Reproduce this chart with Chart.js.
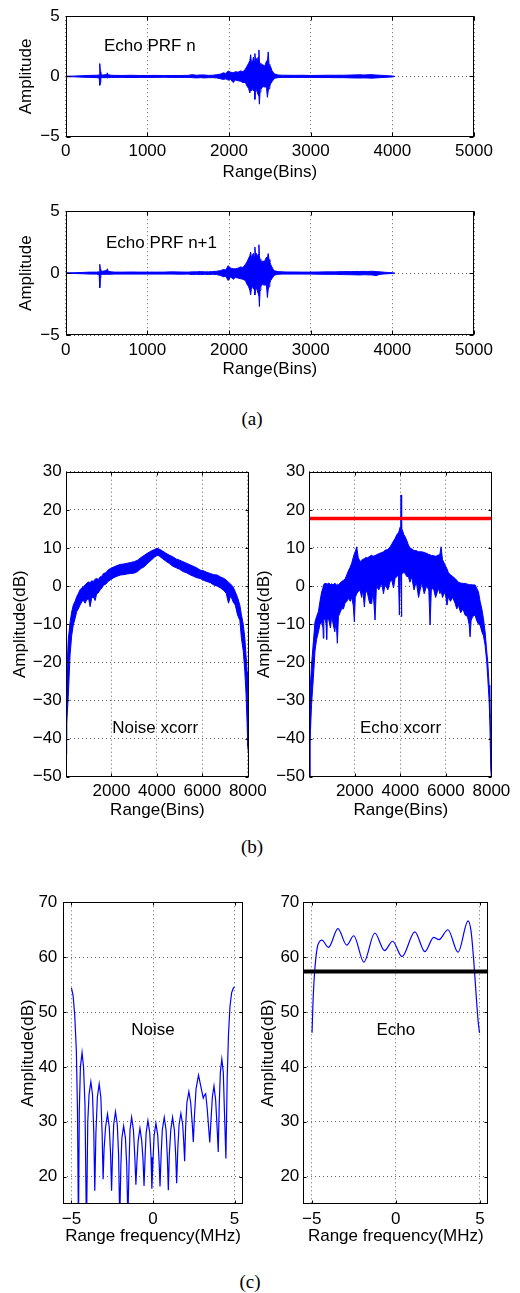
<!DOCTYPE html>
<html><head><meta charset="utf-8">
<script src="https://cdn.jsdelivr.net/npm/chart.js@4.4.0/dist/chart.umd.min.js"></script>
<style>
html,body{margin:0;padding:0;background:#fff;}
body{width:520px;height:1293px;position:relative;overflow:hidden;}
canvas{position:absolute;}
.cap{position:absolute;font-family:"Liberation Serif","Times New Roman",serif;font-size:19px;color:#000;transform:translate(-50%,-50%);white-space:nowrap;}
</style></head><body>
<canvas id="c1"></canvas><canvas id="c2"></canvas>
<canvas id="c3"></canvas><canvas id="c4"></canvas>
<canvas id="c5"></canvas><canvas id="c6"></canvas>
<div class="cap" style="left:252px;top:419px">(a)</div>
<div class="cap" style="left:252px;top:847px">(b)</div>
<div class="cap" style="left:250px;top:1282px">(c)</div>
<script>
// ---------- (a) echo waveforms: range bins, upper/lower envelope ----------
const binsA = [
 0,100,200,300,380,410,415,420,425,430,
 450,500,510,520,560,600,700,800,900,1000,
 1100,1200,1300,1400,1500,1550,1600,1650,1700,1750,
 1800,1850,1900,1930,1960,1990,2020,2050,2080,2110,
 2140,2170,2200,2220,2240,2255,2265,2275,2290,2300,
 2310,2317,2325,2335,2345,2355,2366,2372,2380,2390,
 2400,2415,2430,2445,2460,2470,2480,2490,2500,2510,
 2525,2540,2560,2600,2650,2700,2800,2900,3000,3100,
 3200,3300,3400,3500,3600,3650,3700,3750,3800,3850,
 3900,3950,4000,4030];
const echoN_hi = [
 0.02,0.03,0.06,0.09,0.1,0.12,0.35,1.07,0.4,0.15,
 0.12,0.15,0.3,0.14,0.1,0.09,0.08,0.1,0.08,0.08,
 0.09,0.07,0.08,0.08,0.09,0.15,0.1,0.13,0.12,0.09,
 0.1,0.15,0.2,0.3,0.25,0.45,0.35,0.3,0.4,0.35,
 0.45,0.4,0.6,0.85,1.1,1.3,1.8,1.1,1.3,1.6,
 1.2,1.9,1.3,1.5,1.1,1.6,2.2,1.3,1.0,1.1,
 0.9,1.0,0.8,1.0,1.3,1.2,2.04,1.0,0.9,0.8,
 0.5,0.35,0.2,0.12,0.1,0.1,0.09,0.1,0.08,0.09,
 0.1,0.1,0.1,0.12,0.14,0.12,0.14,0.15,0.12,0.1,
 0.08,0.06,0.04,0.0];
const echoN_lo = [
 -0.02,-0.03,-0.06,-0.08,-0.1,-0.12,-0.3,-0.73,-0.5,-0.12,
 -0.1,-0.1,-0.13,-0.1,-0.09,-0.08,-0.08,-0.09,-0.08,-0.08,
 -0.08,-0.07,-0.08,-0.08,-0.08,-0.1,-0.12,-0.1,-0.12,-0.1,
 -0.1,-0.12,-0.2,-0.25,-0.2,-0.3,-0.25,-0.5,-0.3,-0.35,
 -0.4,-0.5,-0.5,-0.8,-1.0,-1.37,-1.1,-1.2,-1.0,-1.2,
 -1.0,-1.9,-0.9,-1.1,-1.3,-1.5,-1.6,-2.3,-1.3,-1.0,
 -1.0,-0.8,-0.9,-0.8,-1.0,-1.73,-1.2,-1.0,-0.8,-0.6,
 -0.45,-0.3,-0.15,-0.1,-0.08,-0.08,-0.08,-0.08,-0.08,-0.09,
 -0.09,-0.1,-0.1,-0.12,-0.13,-0.12,-0.13,-0.14,-0.12,-0.1,
 -0.08,-0.06,-0.04,0.0];
const echoN1_hi = [
 0.02,0.03,0.05,0.08,0.08,0.1,0.3,0.71,0.3,0.12,
 0.15,0.2,0.35,0.15,0.1,0.08,0.08,0.09,0.08,0.08,
 0.08,0.08,0.1,0.09,0.08,0.1,0.1,0.12,0.1,0.1,
 0.12,0.15,0.2,0.3,0.25,0.6,0.4,0.35,0.35,0.4,
 0.5,0.45,0.7,0.9,1.2,1.4,1.7,1.2,1.5,1.6,
 1.3,2.1,1.4,1.6,1.3,1.5,2.29,1.4,1.1,1.0,
 0.9,1.0,0.9,1.1,1.3,1.2,1.58,1.1,0.9,0.7,
 0.5,0.3,0.18,0.12,0.1,0.09,0.09,0.08,0.08,0.09,
 0.1,0.1,0.12,0.12,0.13,0.14,0.13,0.15,0.12,0.1,
 0.07,0.05,0.03,0.0];
const echoN1_lo = [
 -0.02,-0.03,-0.05,-0.08,-0.08,-0.15,-0.5,-1.18,-0.4,-0.12,
 -0.1,-0.1,-0.12,-0.1,-0.09,-0.08,-0.08,-0.08,-0.08,-0.08,
 -0.08,-0.08,-0.08,-0.09,-0.08,-0.12,-0.1,-0.12,-0.1,-0.12,
 -0.1,-0.12,-0.2,-0.3,-0.25,-0.6,-0.3,-0.5,-0.35,-0.4,
 -0.45,-0.5,-0.6,-0.9,-1.1,-1.4,-1.76,-1.2,-1.1,-1.3,
 -1.1,-1.76,-1.0,-1.2,-1.4,-1.6,-1.8,-2.7,-1.4,-1.1,
 -1.0,-0.9,-1.0,-0.9,-1.1,-1.97,-1.3,-1.1,-0.8,-0.6,
 -0.45,-0.3,-0.15,-0.1,-0.08,-0.08,-0.08,-0.08,-0.08,-0.09,
 -0.1,-0.1,-0.12,-0.13,-0.15,-0.13,-0.14,-0.15,-0.2,-0.1,
 -0.07,-0.05,-0.03,0.0];

// ---------- (b) cross-correlations (dB) ----------
const binsNX = [
 0,30,100,180,250,320,400,470,540,615,
 690,760,840,920,1000,1060,1130,1200,1280,1350,
 1420,1500,1580,1650,1750,1850,1950,2100,2250,2400,
 2550,2700,2850,3000,3150,3300,3450,3600,3750,3900,
 4000,4100,4250,4400,4550,4700,4850,5000,5150,5300,
 5450,5600,5750,5900,6050,6200,6350,6500,6650,6800,
 6950,7050,7150,7250,7350,7450,7550,7650,7720,7800,
 7870,7920,7970,8000,8030];
const noiseX_hi = [
 -40,-24,-14,-9.5,-6.8,-5,-4,-2.8,-2,-1,
 -0.5,-0.2,0.3,0.8,1.1,0.9,1.4,1.2,1.8,2,
 1.7,2.4,2.6,3.3,3.5,4.2,4.6,5,5.4,5.7,
 5.8,6,6.2,6.4,6.8,7.5,8.1,8.7,9.2,9.6,
 9.9,9.7,9.2,8.6,8.1,7.7,7.1,6.8,6.4,6,
 5.6,5.2,4.8,4.2,4,3.6,3.3,3,2.9,2.4,
 2,1.6,1,0.5,-0.2,-1.5,-3,-5,-7.6,-10,
 -13.7,-18,-22.5,-28,-36];
const noiseX_lo = [
 -44,-36,-29,-18,-13,-10.2,-8.5,-6.7,-6,-5,
 -4.2,-3.7,-4.5,-3.5,-3.4,-5.4,-3.2,-2.8,-3.8,-2,
 -1.8,-1,-0.5,0.2,0.5,1.2,1.6,2.2,2.6,2.9,
 3,3.2,3.3,3.4,3.8,4.6,5.1,6,6.8,7.6,
 8.1,7.9,7.2,6.5,5.9,5.2,4.8,4.4,3.8,3.5,
 3,2.6,2.2,2,1.5,1.2,0.9,0.3,0,-0.5,
 -1.2,-1.9,-4.5,-2.5,-4.1,-5,-7.6,-9,-13.7,-17,
 -22.5,-28,-36,-42,-44];
const binsEX = [
 0,30,100,180,250,320,400,470,544,600,
 617,640,690,740,763,790,860,930,983,1050,
 1120,1180,1232,1280,1350,1423,1500,1569,1650,1716,
 1800,1862,1930,1980,2020,2083,2150,2229,2300,2350,
 2419,2480,2560,2650,2742,2800,2888,2950,3050,3181,
 3260,3328,3450,3550,3622,3700,3768,3850,3915,3958,
 3990,4017,4030,4045,4070,4090,4150,4207,4280,4354,
 4420,4500,4600,4700,4800,4940,5050,5150,5250,5306,
 5360,5450,5550,5673,5740,5790,5850,5965,6050,6112,
 6200,6300,6405,6480,6551,6650,6750,6844,6950,7020,
 7064,7110,7180,7284,7350,7431,7504,7580,7650,7724,
 7797,7841,7900,7929,7973,8000,8030];
const echoX_hi = [
 -50,-28,-20.5,-14.5,-9.4,-8,-6.7,-4,-1.5,-0.5,
 0.2,0.5,0.7,0.6,0.7,0.5,0.8,0.4,0.6,0.3,
 0.8,0.2,0.5,0.3,0.8,1.2,1.5,1.8,3,4,
 5,6,7.5,8.5,9,10.3,7.5,6.4,6.8,7,
 7.2,7.5,7.4,7.8,8.1,7.8,8,8.2,8.5,8.8,
 9,9.4,9.6,10.3,11,11.8,12.5,13.5,14,14.7,
 15.5,16.5,23.9,16,15,14.7,13.5,13,12,10.8,
 10,9.8,9.3,9.3,9,9,8.8,8.6,8.3,8.2,
 8,8,7.8,8.1,8.5,10.3,7,5.5,4.5,3.5,
 3,2.5,2,1.5,1,0.8,0.7,0.7,0.5,0.4,
 0.3,0.4,0.3,0.3,-0.5,-1.5,-4,-6,-8.5,-12,
 -17.2,-20,-26,-30,-40,-49.6,-50];
const echoX_lo = [
 -50,-41,-31,-24,-17,-14,-12,-10,-9.4,-11,
 -13.7,-9,-8.5,-10,-14,-8.5,-9,-11,-8,-10,
 -12,-9,-15,-8,-7,-5.9,-6,-4.5,-4,-3.2,
 -4,-3,-5,-9.4,-3,-2,-1.5,-1,-3,-1,
 -5.5,-1,-2,-4.5,-4.6,-1,-8.9,0,-1,0.7,
 -2,0.5,-1,1.2,1.6,-0.5,2,2.5,2.9,-7.6,
 3,3,4,-8,3,3.5,3.5,3.4,2.5,2.5,
 1,2.4,-1,1.2,-3,1,-2,0,-1,-10.2,
 -1,-0.5,-3,-0.6,-2,-1,-3,-1.5,-5,-2.8,
 -4,-3,-4.5,-6,-5,-7,-6,-7.6,-8,-10,
 -13.3,-9,-8,-7.6,-9,-10,-10.2,-12,-13,-15.5,
 -20,-24.2,-30,-34.7,-48,-50,-50];
const echoThreshold = 17.7;

// ---------- (c) range spectra (dB) ----------
const freqN = [
 -5.0,-4.9,-4.8,-4.7,-4.63,-4.57,-4.52,-4.45,-4.35,-4.26,
 -4.17,-4.08,-4.0,-3.92,-3.81,-3.71,-3.63,-3.57,-3.5,-3.41,
 -3.3,-3.2,-3.12,-3.06,-3.0,-2.91,-2.79,-2.68,-2.6,-2.54,
 -2.48,-2.41,-2.3,-2.19,-2.11,-2.04,-1.97,-1.91,-1.8,-1.69,
 -1.61,-1.54,-1.47,-1.41,-1.31,-1.2,-1.12,-1.05,-0.98,-0.91,
 -0.8,-0.69,-0.61,-0.55,-0.48,-0.42,-0.31,-0.2,-0.12,-0.07,
 0.0,0.07,0.18,0.29,0.37,0.43,0.5,0.57,0.69,0.8,
 0.88,0.94,1.0,1.09,1.2,1.31,1.39,1.45,1.52,1.6,
 1.71,1.82,1.89,1.94,2.0,2.08,2.2,2.31,2.41,2.47,
 2.54,2.64,2.79,2.93,3.08,3.15,3.23,3.32,3.41,3.48,
 3.55,3.64,3.74,3.84,3.93,4.0,4.06,4.13,4.22,4.31,
 4.39,4.47,4.55,4.63,4.72,4.82,4.92,5.0];
const noiseSpec = [
 54.4,53,49.5,43,32,10,32,40,42.6,40,
 33,10,30,35,37.3,35,28,17.4,28,34.5,
 36.9,34.5,28,19.5,25,29,31.4,29,24,17.4,
 24,29.5,31.8,29.5,24,12,22,27,29.2,27,
 22,12,22,28.5,30.8,28.5,24,18.5,23,26.5,
 28.8,26.5,23,18.3,24,28,30.2,28,23.5,17.8,
 23,27.5,29.7,27.5,23,18.2,24,28.5,30.8,28.5,
 23.5,17.5,24,28.5,30.8,28.5,24,18.8,25,29.5,
 31.5,29.5,26,22.8,29,33.5,35.5,33.5,29.5,26.3,
 31,36,38.5,36.5,34.3,34.8,35.1,32.5,29,26.2,
 30,34.5,36.5,34,29,24.5,33,39,41.4,39,
 31,23.3,38,46,51,53.5,54.3,54.6];
const freqE = [-4.98,-4.93,-4.84,-4.68,-4.54,-4.4,-4.0,-3.44,-2.92,-2.5,-1.9,-1.25,-0.67,-0.19,0.37,1.13,1.73,2.25,2.57,3.1,3.7,4.3,4.48,4.64,4.78,4.9,4.98];
const echoSpec = [46.2,51.2,56.7,61.6,62.8,63.1,61.8,65.2,62.2,63.9,59.1,64.4,61.2,62.9,60.1,64.6,61.0,63.6,63.2,65.0,60.9,66.6,64.6,59.1,53,48.2,46.2];
const spectrumThreshold = 57.4;

// ---------- tick values ----------
const ticksA_x = [0,1000,2000,3000,4000,5000];
const ticksA_y = [-5,0,5];
const ticksB_x = [2000,4000,6000,8000];
const ticksB_y = [-50,-40,-30,-20,-10,0,10,20,30];
const ticksC_x = [-5,0,5];
const ticksC_y = [20,30,40,50,60,70];

// ---------- rendering ----------
const FONT = '"Liberation Sans", Arial, Helvetica, sans-serif';
const FS = 17, LH = 1.2;
const BLUE = '#0000ff';
const GRID = 'rgba(0,0,0,0.6)';
function fmt(v){ return v < 0 ? '\u2212' + Math.abs(v) : String(v); }
function pts(xs, ys){ return xs.map((x,i)=>({x:x, y:ys[i]})); }

const framePlugin = {
  id: 'frame',
  afterDraw(chart, args, opts) {
    const {ctx, chartArea: a, scales} = chart;
    ctx.save();
    ctx.setLineDash([]);
    ctx.strokeStyle = '#000'; ctx.lineWidth = 1;
    const L = Math.round(a.left)+0.5, R = Math.round(a.right)-0.5,
          T = Math.round(a.top)+0.5, B = Math.round(a.bottom)-0.5;
    ctx.strokeRect(L, T, R-L, B-T);
    const tl = opts.tick || 3;
    ctx.beginPath();
    scales.x.ticks.forEach(t => {
      const x = Math.round(scales.x.getPixelForValue(t.value))+0.5;
      ctx.moveTo(x,B); ctx.lineTo(x,B-tl); ctx.moveTo(x,T); ctx.lineTo(x,T+tl);
    });
    scales.y.ticks.forEach(t => {
      const y = Math.round(scales.y.getPixelForValue(t.value))+0.5;
      ctx.moveTo(L,y); ctx.lineTo(L+tl,y); ctx.moveTo(R,y); ctx.lineTo(R-tl,y);
    });
    ctx.stroke();
    (opts.texts||[]).forEach(t => {
      ctx.font = FS + 'px ' + FONT; ctx.fillStyle = '#000';
      ctx.textAlign = t.align || 'center'; ctx.textBaseline = 'middle';
      ctx.fillText(t.text, scales.x.getPixelForValue(t.x), scales.y.getPixelForValue(t.y));
    });
    ctx.restore();
  }
};

function makeChart(id, c) {
  const [cx, cy, cw, ch] = c.canvas;
  const [L, T, R, B] = c.plot;
  const el = document.getElementById(id);
  el.width = cw; el.height = ch;
  el.style.left = cx + 'px'; el.style.top = cy + 'px';
  el.style.width = cw + 'px'; el.style.height = ch + 'px';
  const half = FS * LH / 2;
  const xH = c.xTitleY + half - B;
  const font = {family: FONT, size: FS, lineHeight: LH};
  new Chart(el, {
    type: 'line',
    data: {datasets: c.datasets},
    options: {
      responsive: false, animation: false, devicePixelRatio: 1,
      layout: {padding: {left: 0, top: T - cy, right: cx + cw - R, bottom: ch - (B - cy) - xH}},
      plugins: {legend: {display: false}, tooltip: {enabled: false},
                frame: {texts: c.texts, tick: c.tickLen}},
      elements: {point: {radius: 0, hoverRadius: 0}, line: {borderWidth: 1, tension: 0}},
      scales: {
        x: {type: 'linear', min: c.xMin, max: c.xMax,
            afterBuildTicks: s => { s.ticks = c.xTicks.map(v => ({value: v})); },
            afterFit: s => { s.height = xH; },
            ticks: {font: font, color: '#000', padding: c.xTickY - half - B, maxRotation: 0, minRotation: 0,
                    autoSkip: false, callback: v => fmt(v)},
            grid: {color: GRID, lineWidth: 1, drawTicks: false, tickLength: 0},
            border: {display: false, dash: [1, 3]},
            title: {display: true, text: c.xTitle, font: font, color: '#000', padding: {top: 0, bottom: 0}}},
        y: {type: 'linear', min: c.yMin, max: c.yMax,
            afterBuildTicks: s => { s.ticks = c.yTicks.map(v => ({value: v})); },
            afterFit: s => { s.width = L - cx; },
            ticks: {font: font, color: '#000', padding: c.yTickGap, autoSkip: false, callback: v => fmt(v)},
            grid: {color: GRID, lineWidth: 1, drawTicks: false, tickLength: 0},
            border: {display: false, dash: [1, 3]},
            title: {display: true, text: c.yTitle, font: font, color: '#000',
                    padding: {top: c.yTitleX - cx - half, bottom: 0}}}
      }
    },
    plugins: [framePlugin]
  });
}

function band(xs, lo, hi) {
  return [
    {data: pts(xs, lo), borderColor: BLUE, borderWidth: 1, fill: false},
    {data: pts(xs, hi), borderColor: BLUE, borderWidth: 1, backgroundColor: BLUE, fill: '-1'}
  ];
}

makeChart('c1', {canvas: [0, 0, 520, 200], plot: [65.7, 9.3, 474, 136.7],
  yTitleX: 26, yTickGap: 6, xTickY: 151.7, xTitleY: 172, tickLen: 4,
  xMin: 0, xMax: 5000, yMin: -5, yMax: 5, xTicks: ticksA_x, yTicks: ticksA_y,
  xTitle: 'Range(Bins)', yTitle: 'Amplitude',
  texts: [{text: 'Echo PRF n', x: 469, y: 2.54, align: 'left'}],
  datasets: band(binsA, echoN_lo, echoN_hi)});

makeChart('c2', {canvas: [0, 195, 520, 210], plot: [65.7, 208.3, 474, 335],
  yTitleX: 26, yTickGap: 6, xTickY: 350, xTitleY: 369, tickLen: 4,
  xMin: 0, xMax: 5000, yMin: -5, yMax: 5, xTicks: ticksA_x, yTicks: ticksA_y,
  xTitle: 'Range(Bins)', yTitle: 'Amplitude',
  texts: [{text: 'Echo PRF n+1', x: 493, y: 2.37, align: 'left'}],
  datasets: band(binsA, echoN1_lo, echoN1_hi)});

makeChart('c3', {canvas: [0, 440, 290, 390], plot: [66, 471.7, 248.7, 776.7],
  yTitleX: 20, yTickGap: 4.3, xTickY: 791.7, xTitleY: 810.7, tickLen: 3,
  xMin: 0, xMax: 8040, yMin: -50, yMax: 30, xTicks: ticksB_x, yTicks: ticksB_y,
  xTitle: 'Range(Bins)', yTitle: 'Amplitude(dB)',
  texts: [{text: 'Noise xcorr', x: 3925, y: -37.3}],
  datasets: band(binsNX, noiseX_lo, noiseX_hi)});

makeChart('c4', {canvas: [250, 440, 270, 390], plot: [309.3, 471.7, 492.3, 776.7],
  yTitleX: 264, yTickGap: 4.3, xTickY: 791.7, xTitleY: 810.7, tickLen: 3,
  xMin: 0, xMax: 8040, yMin: -50, yMax: 30, xTicks: ticksB_x, yTicks: ticksB_y,
  xTitle: 'Range(Bins)', yTitle: 'Amplitude(dB)',
  texts: [{text: 'Echo xcorr', x: 4009, y: -37.2}],
  datasets: [{data: [{x: 0, y: echoThreshold}, {x: 8040, y: echoThreshold}], borderColor: '#ff0000', borderWidth: 3.5, fill: false}]
            .concat(band(binsEX, echoX_lo, echoX_hi))});

makeChart('c5', {canvas: [0, 880, 290, 380], plot: [63.3, 902.3, 242.7, 1204],
  yTitleX: 28.3, yTickGap: 6, xTickY: 1219, xTitleY: 1236.7, tickLen: 3,
  xMin: -5.5, xMax: 5.5, yMin: 15, yMax: 70, xTicks: ticksC_x, yTicks: ticksC_y,
  xTitle: 'Range frequency(MHz)', yTitle: 'Amplitude(dB)',
  texts: [{text: 'Noise', x: 0, y: 46.7}],
  datasets: [{data: pts(freqN, noiseSpec), borderColor: BLUE, borderWidth: 1.2, fill: false}]});

makeChart('c6', {canvas: [250, 880, 270, 380], plot: [303.3, 902.3, 488.3, 1204],
  yTitleX: 268.3, yTickGap: 4, xTickY: 1219, xTitleY: 1236.7, tickLen: 3,
  xMin: -5.5, xMax: 5.5, yMin: 15, yMax: 70, xTicks: ticksC_x, yTicks: ticksC_y,
  xTitle: 'Range frequency(MHz)', yTitle: 'Amplitude(dB)',
  texts: [{text: 'Echo', x: 0, y: 46.7}],
  datasets: [{data: [{x: -5.5, y: spectrumThreshold}, {x: 5.5, y: spectrumThreshold}], borderColor: '#000', borderWidth: 4, fill: false},
             {data: pts(freqE, echoSpec), borderColor: BLUE, borderWidth: 1.2, fill: false, cubicInterpolationMode: 'monotone'}]});
</script>
</body></html>
